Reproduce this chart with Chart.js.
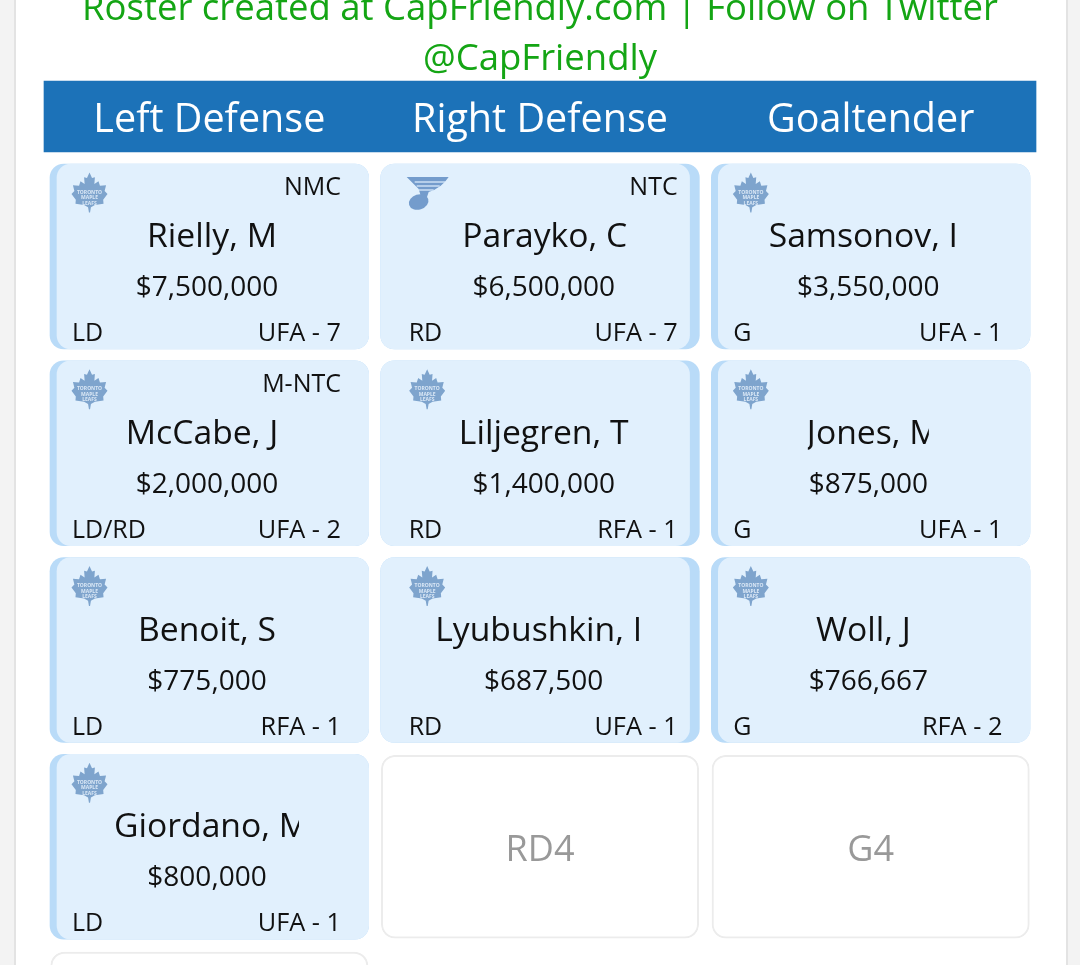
<!DOCTYPE html>
<html>
<head>
<meta charset="utf-8">
<title>Roster</title>
<script src="https://cdn.jsdelivr.net/npm/chart.js@4/dist/chart.umd.min.js"></script>
<style>
  html, body { margin: 0; padding: 0; background: #f3f3f3; overflow: hidden; }
  #panel { position: absolute; left: 14px; top: 0; width: 1050px; height: 965px; background: #fff;
           border-left: 2px solid #e3e3e3; border-right: 2px solid #e3e3e3; }
  canvas { position: absolute; left: 0; top: 0; }
</style>
</head>
<body>
<div id="panel"></div>
<canvas id="roster" width="1080" height="965"></canvas>
<script>
// roster values, one inner list per row: left defense, right defense, goaltender
const titleLines = ['Roster created at CapFriendly.com | Follow on Twitter', '@CapFriendly'];
const columns = ['Left Defense', 'Right Defense', 'Goaltender'];
const names = [
  ['Rielly, M', 'Parayko, C', 'Samsonov, I'],
  ['McCabe, J', 'Liljegren, T', 'Jones, M'],
  ['Benoit, S', 'Lyubushkin, I', 'Woll, J'],
  ['Giordano, M', null, null]
];
const salaries = [
  [7500000, 6500000, 3550000],
  [2000000, 1400000, 875000],
  [775000, 687500, 766667],
  [800000, null, null]
];
const clauses = [
  ['NMC', 'NTC', ''],
  ['M-NTC', '', ''],
  ['', '', ''],
  ['', null, null]
];
const positions = [
  ['LD', 'RD', 'G'],
  ['LD/RD', 'RD', 'G'],
  ['LD', 'RD', 'G'],
  ['LD', null, null]
];
const contracts = [
  ['UFA - 7', 'UFA - 7', 'UFA - 1'],
  ['UFA - 2', 'RFA - 1', 'UFA - 1'],
  ['RFA - 1', 'UFA - 1', 'RFA - 2'],
  ['UFA - 1', null, null]
];
const teams = [
  ['TOR', 'STL', 'TOR'],
  ['TOR', 'TOR', 'TOR'],
  ['TOR', 'TOR', 'TOR'],
  ['TOR', null, null]
];
const emptySlots = [
  ['', 'RD4', 'G4'],
  ['', '', '']
];
const emptyRows = [3, 4];

// look of the page
const INK = '#111';
const CARD_BODY = '#e1f0fd';
const CARD_STRIP = '#b9dbf8';
const HEADER_BLUE = '#1c72b8';
const LOGO_BLUE = '#7ea4cd';
const FONT = '"Open Sans", "Noto Sans", sans-serif';
const PITCH_X = 330.67, PITCH_Y = 196.75;
const GRID_LEFT = 44, CARD_CENTER_0 = 256.5;
const CARD_H = 185, HEADER_H = 71;
const HEADER_ROW = (116.5 - CARD_CENTER_0) / PITCH_Y;
const INSET = 6 / PITCH_X, STRIP = 7 / PITCH_X;

// small horizontal shifts of the names, and the names cut off by their box
const nameNudge = [[5, 1, -5], [-5, 0, 0], [0, -5, -5], [0]];
const nameClip = { 'Jones, M': 121, 'Giordano, M': 184 };

const filled = [];
const blanks = [];
names.forEach((row, r) => row.forEach((n, c) => { if (n) filled.push({ r, c }); }));
emptyRows.forEach((r, i) => columns.forEach((_, c) => {
  if (r === 4 ? c === 0 : emptySlots[i][c]) blanks.push({ r, c });
}));

const stripBars = filled.map(({ r, c }) => ({ y: r, x: [c + INSET, c + 1 - INSET] }));
const bodyBars = filled.map(({ r, c }) => ({
  y: r,
  x: c === 1 ? [c + INSET, c + 1 - INSET - STRIP * 1.4] : [c + INSET + STRIP, c + 1 - INSET]
}));
const blankBars = blanks.map(({ r, c }) => ({ y: r, x: [c + INSET + 0.002, c + 1 - INSET - 0.002] }));

function drawLeaf(ctx, cx, cy) {
  const half = [[0, -1], [.14, -.72], [.3, -.76], [.27, -.42], [.5, -.56], [.58, -.34], [.92, -.36],
    [.84, -.08], [1, .08], [.76, .36], [.78, .56], [.3, .62], [.08, .74], [.03, 1]];
  ctx.fillStyle = LOGO_BLUE;
  ctx.beginPath();
  half.forEach(p => ctx.lineTo(cx + p[0] * 18, cy + p[1] * 20));
  half.slice().reverse().forEach(p => ctx.lineTo(cx - p[0] * 18, cy + p[1] * 20));
  ctx.closePath();
  ctx.fill();
  ctx.fillStyle = '#dbe8f6';
  ctx.font = 'bold 5px ' + FONT;
  ctx.textAlign = 'center';
  ['TORONTO', 'MAPLE', 'LEAFS'].forEach((t, i) => ctx.fillText(t, cx, cy + 1 + i * 5.5));
}

function drawNote(ctx, cx, cy) {
  ctx.fillStyle = '#749ccc';
  ctx.beginPath();
  ctx.moveTo(cx - 21, cy - 16);
  ctx.lineTo(cx + 21, cy - 16);
  ctx.quadraticCurveTo(cx + 14, cy - 5, cx + 1, cy - 1);
  ctx.lineTo(cx - 2, cy + 8);
  ctx.lineTo(cx - 6, cy + 6);
  ctx.lineTo(cx - 9, cy - 4);
  ctx.closePath();
  ctx.fill();
  ctx.beginPath();
  ctx.ellipse(cx - 9, cy + 9, 10, 7.5, -0.3, 0, Math.PI * 2);
  ctx.fill();
  ctx.strokeStyle = CARD_BODY;
  ctx.lineWidth = 1.2;
  [-11, -7, -3].forEach((d, i) => {
    ctx.beginPath();
    ctx.moveTo(cx - 13 + i * 2, cy + d);
    ctx.lineTo(cx + 18 - i * 6, cy + d);
    ctx.stroke();
  });
}

function put(ctx, text, x, y, size, color, align) {
  ctx.font = size + 'px ' + FONT;
  ctx.fillStyle = color;
  ctx.textAlign = align || 'center';
  ctx.fillText(text, x, y);
}

const cardText = {
  id: 'cardText',
  afterDatasetsDraw(chart) {
    const { ctx, scales: { x, y } } = chart;
    ctx.save();
    ctx.textBaseline = 'alphabetic';
    titleLines.forEach((t, i) => put(ctx, t, x.getPixelForValue(1.5), 20 + i * 49.5, 36.5, '#14a514'));
    columns.forEach((t, c) =>
      put(ctx, t, x.getPixelForValue(c + 0.5), y.getPixelForValue(HEADER_ROW) + 15, 39.5, '#fff'));

    filled.forEach(({ r, c }) => {
      const left = x.getPixelForValue(c + INSET);
      const top = y.getPixelForValue(r) - CARD_H / 2;
      const textL = left + (c === 1 ? 29 : 23);
      const textR = textL + 268;
      const mid = (textL + textR) / 2;
      const name = names[r][c];

      if (teams[r][c] === 'STL') drawNote(ctx, left + 47, top + 29);
      else drawLeaf(ctx, left + (c === 1 ? 46.5 : 39.5), top + 28.5);

      ctx.textBaseline = 'alphabetic';
      if (clauses[r][c]) put(ctx, clauses[r][c], textR, top + 31, 25, INK, 'right');
      if (nameClip[name]) {
        const w = nameClip[name];
        ctx.save();
        ctx.beginPath();
        ctx.rect(mid - w / 2, top + 40, w, 60);
        ctx.clip();
        put(ctx, name, mid - w / 2 - 1, top + 83, 33.7, INK, 'left');
        ctx.restore();
      } else {
        put(ctx, name, mid + nameNudge[r][c], top + 83, 33.7, INK);
      }
      put(ctx, '$' + salaries[r][c].toLocaleString('en-US'), mid, top + 132, 28, INK);
      put(ctx, positions[r][c], textL - 1, top + 177, 25, INK, 'left');
      put(ctx, contracts[r][c], textR, top + 177, 25.3, INK, 'right');
    });

    blanks.forEach(({ r, c }) => {
      const i = emptyRows.indexOf(r);
      if (emptySlots[i][c]) {
        put(ctx, emptySlots[i][c], x.getPixelForValue(c + 0.5), y.getPixelForValue(r) + 14, 36, '#999');
      }
    });
    ctx.restore();
  }
};

new Chart(document.getElementById('roster'), {
  type: 'bar',
  data: {
    datasets: [
      { label: 'Header', data: [{ y: HEADER_ROW, x: [0, 3] }],
        backgroundColor: HEADER_BLUE, barThickness: HEADER_H, order: 4 },
      { label: 'Strip', data: stripBars, backgroundColor: CARD_STRIP, barThickness: CARD_H,
        borderSkipped: false, borderRadius: 14, order: 3 },
      { label: 'Card', data: bodyBars, backgroundColor: CARD_BODY, barThickness: CARD_H,
        borderSkipped: false, borderRadius: 14, order: 2 },
      { label: 'Open slot', data: blankBars, backgroundColor: '#fff', borderColor: '#ececec',
        borderWidth: 2, borderSkipped: false, barThickness: CARD_H - 2, borderRadius: 14, order: 1 }
    ]
  },
  options: {
    indexAxis: 'y',
    responsive: false,
    animation: false,
    layout: { padding: 0 },
    datasets: { bar: { grouped: false } },
    scales: {
      x: { type: 'linear', display: false, min: -GRID_LEFT / PITCH_X, max: (1080 - GRID_LEFT) / PITCH_X },
      y: { type: 'linear', display: false, reverse: true, offset: false,
           min: -CARD_CENTER_0 / PITCH_Y, max: (965 - CARD_CENTER_0) / PITCH_Y }
    },
    plugins: { legend: { display: false }, title: { display: false }, tooltip: { enabled: false } }
  },
  plugins: [cardText]
});
</script>
</body>
</html>
